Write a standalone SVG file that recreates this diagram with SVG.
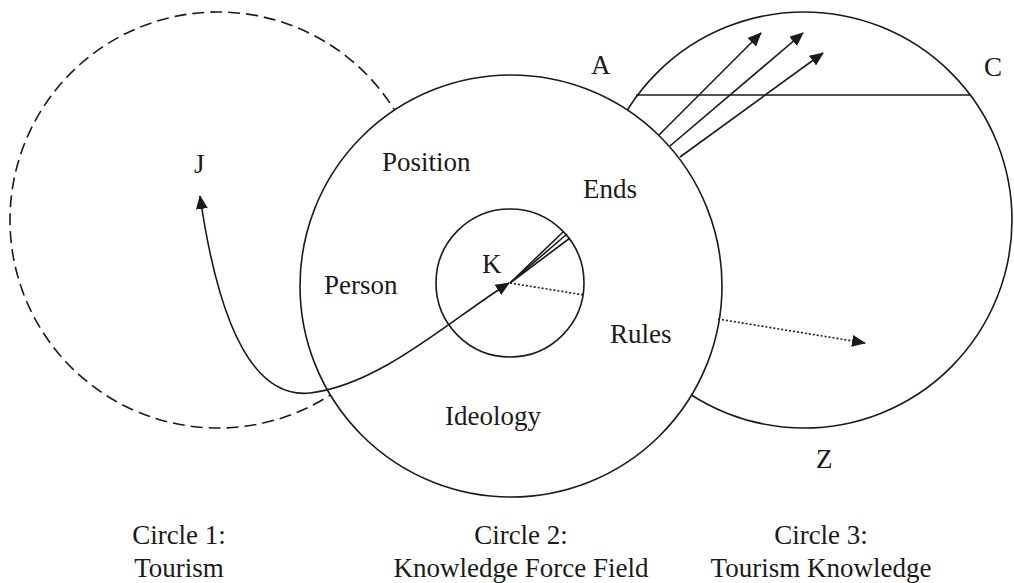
<svg xmlns="http://www.w3.org/2000/svg" width="1014" height="583" viewBox="0 0 1014 583">
<style>
.ln{fill:none;stroke:#1a1a1a;stroke-width:1.6}
.t{font-family:"Liberation Serif","Times New Roman",serif;font-size:27px;fill:#1a1a1a}
.c{text-anchor:middle}
</style>
<defs>
<marker id="ah" viewBox="0 0 14 12" refX="13" refY="6" markerWidth="14" markerHeight="12" markerUnits="userSpaceOnUse" orient="auto-start-reverse">
<path d="M0,0 L14,6 L0,12 Z" fill="#1a1a1a"/>
</marker>
</defs>
<rect width="1014" height="583" fill="#fff"/>
<g id="circle1">
<circle cx="218" cy="220" r="208" class="ln" stroke-dasharray="12 6"/>
</g>
<g id="circle3">
<circle cx="804" cy="220" r="208" class="ln"/>
<line x1="636" y1="95" x2="970" y2="95" class="ln"/>
</g>
<g id="circle2">
<circle cx="511" cy="286" r="211" fill="#fff" stroke="#1a1a1a" stroke-width="1.6"/>
</g>
<g id="core">
<circle cx="510" cy="283" r="74" class="ln"/>
</g>
<g id="connectors">
<path d="M509 283 C450 320,380 385,310 393 C245 400,215 300,200 196" class="ln" marker-start="url(#ah)" marker-end="url(#ah)"/>
<line x1="510" y1="283" x2="563" y2="232" class="ln" stroke-width="1.2"/>
<line x1="510" y1="283" x2="567" y2="234" class="ln" stroke-width="1.2"/>
<line x1="510" y1="283" x2="570" y2="238" class="ln" stroke-width="1.2"/>
<line x1="510" y1="283" x2="584" y2="295" class="ln" stroke-width="1.4" stroke-dasharray="2 2"/>
<line x1="718" y1="319" x2="865" y2="343" class="ln" stroke-width="1.4" stroke-dasharray="2 2" marker-end="url(#ah)"/>
<line x1="659" y1="135" x2="761" y2="33" class="ln" marker-end="url(#ah)"/>
<line x1="670" y1="146" x2="803" y2="33" class="ln" marker-end="url(#ah)"/>
<line x1="680" y1="157" x2="823" y2="53" class="ln" marker-end="url(#ah)"/>
</g>
<g id="labels">
<text class="t" x="194" y="173">J</text>
<text class="t" x="591" y="74">A</text>
<text class="t" x="984" y="76">C</text>
<text class="t" x="816" y="468">Z</text>
<text class="t" x="482" y="273">K</text>
<text class="t" x="382" y="171">Position</text>
<text class="t" x="583" y="198">Ends</text>
<text class="t" x="324" y="294">Person</text>
<text class="t" x="610" y="343">Rules</text>
<text class="t" x="445" y="425">Ideology</text>
</g>
<g id="captions">
<text class="t c" x="179" y="544">Circle 1:</text>
<text class="t c" x="179" y="577">Tourism</text>
<text class="t c" x="521" y="544">Circle 2:</text>
<text class="t c" x="521" y="577">Knowledge Force Field</text>
<text class="t c" x="821" y="544">Circle 3:</text>
<text class="t c" x="821" y="577">Tourism Knowledge</text>
</g>
</svg>
